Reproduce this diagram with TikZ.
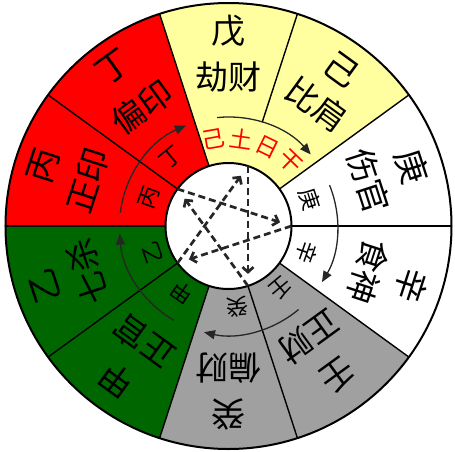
\documentclass[tikz,border=0pt]{standalone}
\usepackage{fontspec}
\newfontfamily\cjk{Noto Sans CJK SC}
\usetikzlibrary{arrows.meta}
\definecolor{cyellow}{RGB}{255,255,160}
\definecolor{cred}{RGB}{255,0,0}
\definecolor{cgreen}{RGB}{0,102,0}
\definecolor{cgray}{RGB}{160,160,160}
\begin{document}
\begin{tikzpicture}[x=1pt,y=1pt,
  divider/.style={draw=black,line width=1.4pt},
  stemtxt/.style={font=\cjk\fontsize{34}{34}\selectfont,inner sep=0pt},
  nametxt/.style={font=\cjk\fontsize{33}{33}\selectfont,inner sep=0pt},
  smalltxt/.style={font=\cjk\fontsize{22}{22}\selectfont,inner sep=0pt},
  daytxt/.style={font=\cjk\fontsize{23}{23}\selectfont,inner sep=0pt,text=red},
  ringarrow/.style={draw=black!85,line width=1.3pt,-{Triangle[length=11pt,width=9pt]}},
  stararrow/.style={draw=black!85,line width=2.7pt,dash pattern=on 7pt off 4pt,
    -{Straight Barb[length=5pt,width=11pt]},shorten >=12pt}
]
\useasboundingbox (-228.5,-225) rectangle (226.5,226);
% sectors
\fill[white] (0,0) circle[radius=223];
\fill[cyellow] (0,0) -- (36:223) arc[start angle=36,end angle=108,radius=223] -- cycle;
\fill[cred] (0,0) -- (108:223) arc[start angle=108,end angle=180,radius=223] -- cycle;
\fill[cgreen] (0,0) -- (180:223) arc[start angle=180,end angle=252,radius=223] -- cycle;
\fill[cgray] (0,0) -- (252:223) arc[start angle=252,end angle=324,radius=223] -- cycle;
% dividers
\foreach \a in {0,36,108,144,180,216,252,288,324}
  \draw[divider] (\a:63) -- (\a:223);
\draw[divider] (72:109) -- (72:223);
\draw[line width=2pt] (0,0) circle[radius=223];
% inner circle
\draw[fill=white,line width=2pt] (0,0) circle[radius=63];
% big stems and names
\node[stemtxt,rotate=-72] (s1) at (18:193) {庚};
\node[nametxt,rotate=-72] (n1) at (18:147) {伤官};
\node[stemtxt,rotate=-108] (s2) at (-18:193) {辛};
\node[nametxt,rotate=-108] (n2) at (-18:147) {食神};
\node[stemtxt,rotate=-36] (s3) at (54:193) {己};
\node[nametxt,rotate=-36] (n3) at (54:150) {比肩};
\node[stemtxt] (s4) at (90:195) {戊};
\node[nametxt] (n4) at (90:149) {劫财};
\node[stemtxt,rotate=36] (s5) at (126:196) {丁};
\node[nametxt,rotate=36] (n5) at (126:147) {偏印};
\node[stemtxt,rotate=72] (s6) at (162:195) {丙};
\node[nametxt,rotate=72] (n6) at (162:148) {正印};
\node[stemtxt,rotate=108] (s7) at (198:193) {乙};
\node[nametxt,rotate=108] (n7) at (198:148) {七杀};
\node[stemtxt,rotate=144] (s8) at (234:190) {甲};
\node[nametxt,rotate=144] (n8) at (234:143) {正官};
\node[stemtxt,rotate=180] (s9) at (270:188) {癸};
\node[nametxt,rotate=180] (n9) at (270:142) {偏财};
\node[stemtxt,rotate=216] (s10) at (306:185) {壬};
\node[nametxt,rotate=216] (n10) at (306:137) {正财};
% small stems in the ring
\node[smalltxt,rotate=-72] (r1) at (18:86) {庚};
\node[smalltxt,rotate=-109] (r2) at (-19:83) {辛};
\node[smalltxt,rotate=40] (r5) at (130:89) {丁};
\node[smalltxt,rotate=70] (r6) at (160:84) {丙};
\node[smalltxt,rotate=109] (r7) at (199:81) {乙};
\node[smalltxt,rotate=145] (r8) at (235:81) {甲};
\node[smalltxt,rotate=186] (r9) at (276:81) {癸};
\node[smalltxt,rotate=220] (r10) at (310:81) {壬};
% day master
\node[daytxt,rotate=10] (d1) at (100:88) {己};
\node[daytxt,rotate=-8] (d2) at (82:88) {土};
\node[daytxt,rotate=-26] (d3) at (64:88) {日};
\node[daytxt,rotate=-44] (d4) at (46:89) {干};
% ring arrows
\draw[ringarrow] (173:109) arc[start angle=173,end angle=113,radius=109];
\draw[ringarrow] (96:109) arc[start angle=96,end angle=41,radius=109];
\draw[ringarrow] (22:109) arc[start angle=22,end angle=-31,radius=109];
\draw[ringarrow] (-50:109) arc[start angle=-50,end angle=-103,radius=109];
\draw[ringarrow] (-120:109) arc[start angle=-120,end angle=-176,radius=109];
% pentagram
\coordinate (v0) at (0:63);
\coordinate (v72) at (72:63);
\coordinate (v144) at (144:63);
\coordinate (v216) at (216:63);
\coordinate (v288) at (288:63);
\draw[stararrow] (v72) -- (v288);
\draw[stararrow] (v144) -- (v0);
\draw[stararrow] (v0) -- (v216);
\draw[stararrow] (v216) -- (v72);
\draw[stararrow] (v288) -- (v144);
\end{tikzpicture}
\end{document}
